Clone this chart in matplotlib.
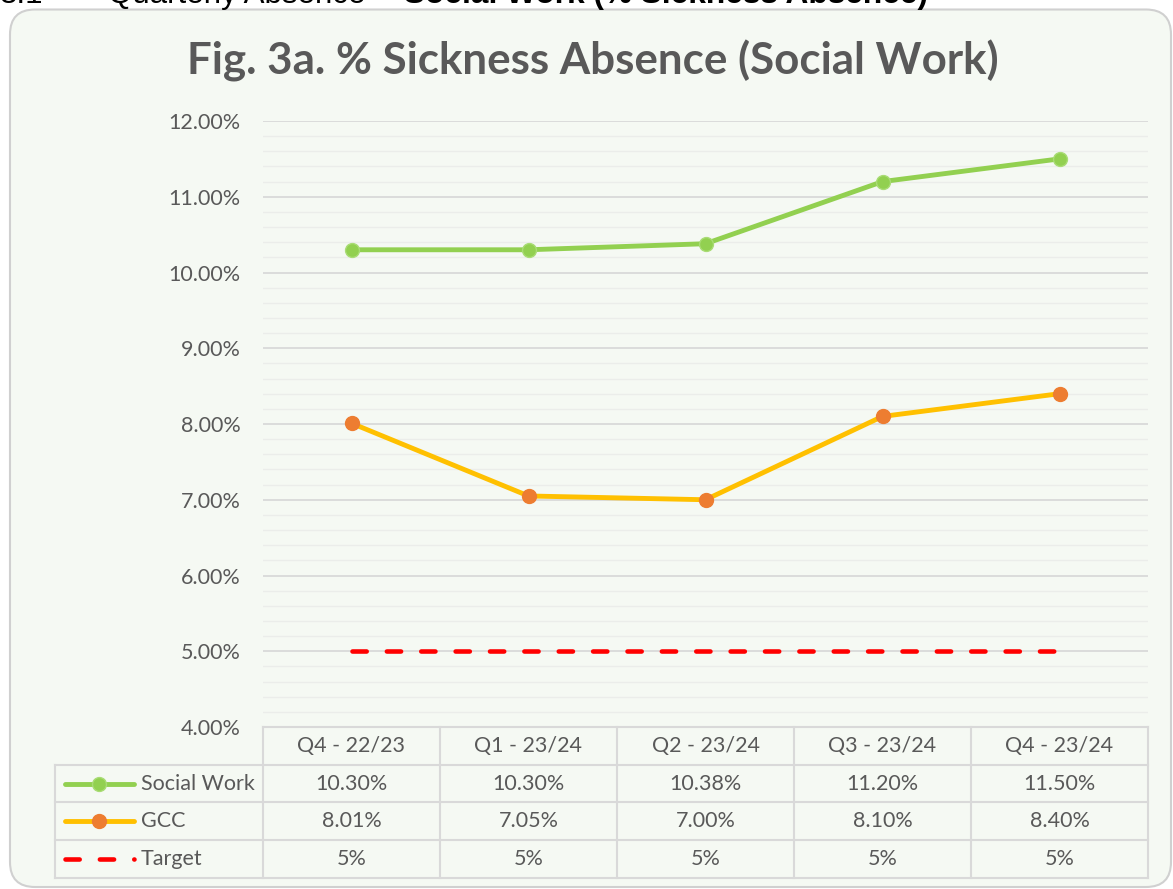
import numpy as np
import matplotlib.pyplot as plt
from matplotlib.patches import FancyBboxPatch
from matplotlib.lines import Line2D

# data
quarters = ["Q4 - 22/23", "Q1 - 23/24", "Q2 - 23/24", "Q3 - 23/24", "Q4 - 23/24"]
social_work = [10.30, 10.30, 10.38, 11.20, 11.50]
gcc = [8.01, 7.05, 7.00, 8.10, 8.40]
target = [5, 5, 5, 5, 5]

W, H = 1173, 889
grey = "#595959"
grid = "#D9D9D9"
green = "#92D050"
yellow = "#FFC000"
orange = "#ED7D31"
red = "#FF0000"
fs = 15.5

plt.rcParams['font.family'] = ['Lato', 'DejaVu Sans']

fig = plt.figure(figsize=(W / 100, H / 100), dpi=100)

def fx(px):
    return px / W

def fy(py):
    return 1 - py / H

# background rounded panel (in inches so the corners stay round)
r = 0.25
x0, x1 = 0.10, 11.71
y0, y1 = 0.02, 8.795
panel = FancyBboxPatch((x0 + r, y0 + r), x1 - x0 - 2 * r, y1 - y0 - 2 * r,
                       boxstyle=f"round,pad={r}", transform=fig.dpi_scale_trans,
                       facecolor="#F5F9F3", edgecolor="#D0D0D0", linewidth=1.5, zorder=0)
fig.add_artist(panel)

# heading of the page, cut off at the top
fig.text(fx(0), fy(3), "3.1", fontsize=22.5, family="Liberation Sans", va="baseline")
fig.text(fx(108), fy(3), "Quarterly Absence - ", fontsize=22.5, family="Liberation Sans", va="baseline")
fig.text(fx(404), fy(3), "Social Work (% Sickness Absence)", fontsize=22.8,
         family="Liberation Sans", fontweight="bold", va="baseline")

# title
fig.text(fx(593), fy(75), "Fig. 3a. % Sickness Absence (Social Work)", fontsize=31.6,
         fontweight="bold", color=grey, ha="center", va="baseline")

ax_l, ax_r, ax_t, ax_b = 263, 1148, 121, 727
ax = fig.add_axes([fx(ax_l), fy(ax_b), fx(ax_r - ax_l), (ax_b - ax_t) / H])
ax.set_facecolor("none")
x = np.arange(len(quarters))

ax.plot(x, target, color=red, linewidth=3.3, linestyle=(0, (3.1, 4.4)),
        dash_capstyle="round", zorder=3)
ax.plot(x, gcc, color=yellow, linewidth=3.5, marker="o", markersize=10,
        markerfacecolor=orange, markeredgecolor=orange, zorder=4)
ax.plot(x, social_work, color=green, linewidth=3.5, marker="o", markersize=10,
        markerfacecolor=green, markeredgecolor="#A9DC75", zorder=4)

ax.set_xlim(-0.5, len(quarters) - 0.5)
ax.set_ylim(4, 12)
ax.set_yticks(np.arange(4, 12.01, 1))
ax.set_yticklabels([f"{v:.2f}%" for v in np.arange(4, 12.01, 1)])
ax.set_yticks(np.arange(4, 12.01, 0.2), minor=True)
ax.tick_params(axis="y", which="both", length=0, labelsize=fs, labelcolor=grey, pad=16)
ax.set_xticks([])
ax.grid(axis="y", which="major", color=grid, linewidth=1.3, zorder=0)
ax.grid(axis="y", which="minor", color="#EBEDEA", linewidth=1.0, zorder=0)
for s in ax.spines.values():
    s.set_visible(False)

# data table below the plot
col_edges = [ax_l + i * (ax_r - ax_l) / len(quarters) for i in range(len(quarters) + 1)]
row_edges = [727, 765, 802, 840, 878]
tab_left = 55

def hline(y, xa, xb):
    fig.add_artist(Line2D([fx(xa), fx(xb)], [fy(y), fy(y)], color=grid, linewidth=1.5))

def vline(xp, ya, yb):
    fig.add_artist(Line2D([fx(xp), fx(xp)], [fy(ya), fy(yb)], color=grid, linewidth=1.5))

hline(row_edges[0], col_edges[0], col_edges[-1])
for y in row_edges[1:]:
    hline(y, tab_left, col_edges[-1])
vline(tab_left, row_edges[1], row_edges[-1])
for xe in col_edges:
    vline(xe, row_edges[0], row_edges[-1])

def cell_y(i):
    return (row_edges[i] + row_edges[i + 1]) / 2

for j, q in enumerate(quarters):
    cx = fx((col_edges[j] + col_edges[j + 1]) / 2)
    fig.text(cx, fy(cell_y(0)), q, fontsize=fs, color=grey, ha="center", va="center")
    fig.text(cx, fy(cell_y(1)), f"{social_work[j]:.2f}%", fontsize=fs, color=grey, ha="center", va="center")
    fig.text(cx, fy(cell_y(2)), f"{gcc[j]:.2f}%", fontsize=fs, color=grey, ha="center", va="center")
    fig.text(cx, fy(cell_y(3)), f"{target[j]:.0f}%", fontsize=fs, color=grey, ha="center", va="center")

# legend keys in the table
names = ["Social Work", "GCC", "Target"]
for i, name in enumerate(names):
    yk = fy(cell_y(i + 1))
    if i == 0:
        fig.add_artist(Line2D([fx(65), fx(134)], [yk, yk], color=green, linewidth=3.5,
                              solid_capstyle="round"))
        fig.add_artist(Line2D([fx(99)], [yk], marker="o", markersize=10, color=green,
                              markeredgecolor="#A9DC75"))
    elif i == 1:
        fig.add_artist(Line2D([fx(65), fx(134)], [yk, yk], color=yellow, linewidth=3.5,
                              solid_capstyle="round"))
        fig.add_artist(Line2D([fx(99)], [yk], marker="o", markersize=10, color=orange))
    else:
        fig.add_artist(Line2D([fx(65), fx(134)], [yk, yk], color=red, linewidth=3.3,
                              linestyle=(0, (3.1, 4.4)), dash_capstyle="round"))
    fig.text(fx(141), yk, name, fontsize=fs, color=grey, ha="left", va="center")

fig.savefig("out.png", dpi=100)
